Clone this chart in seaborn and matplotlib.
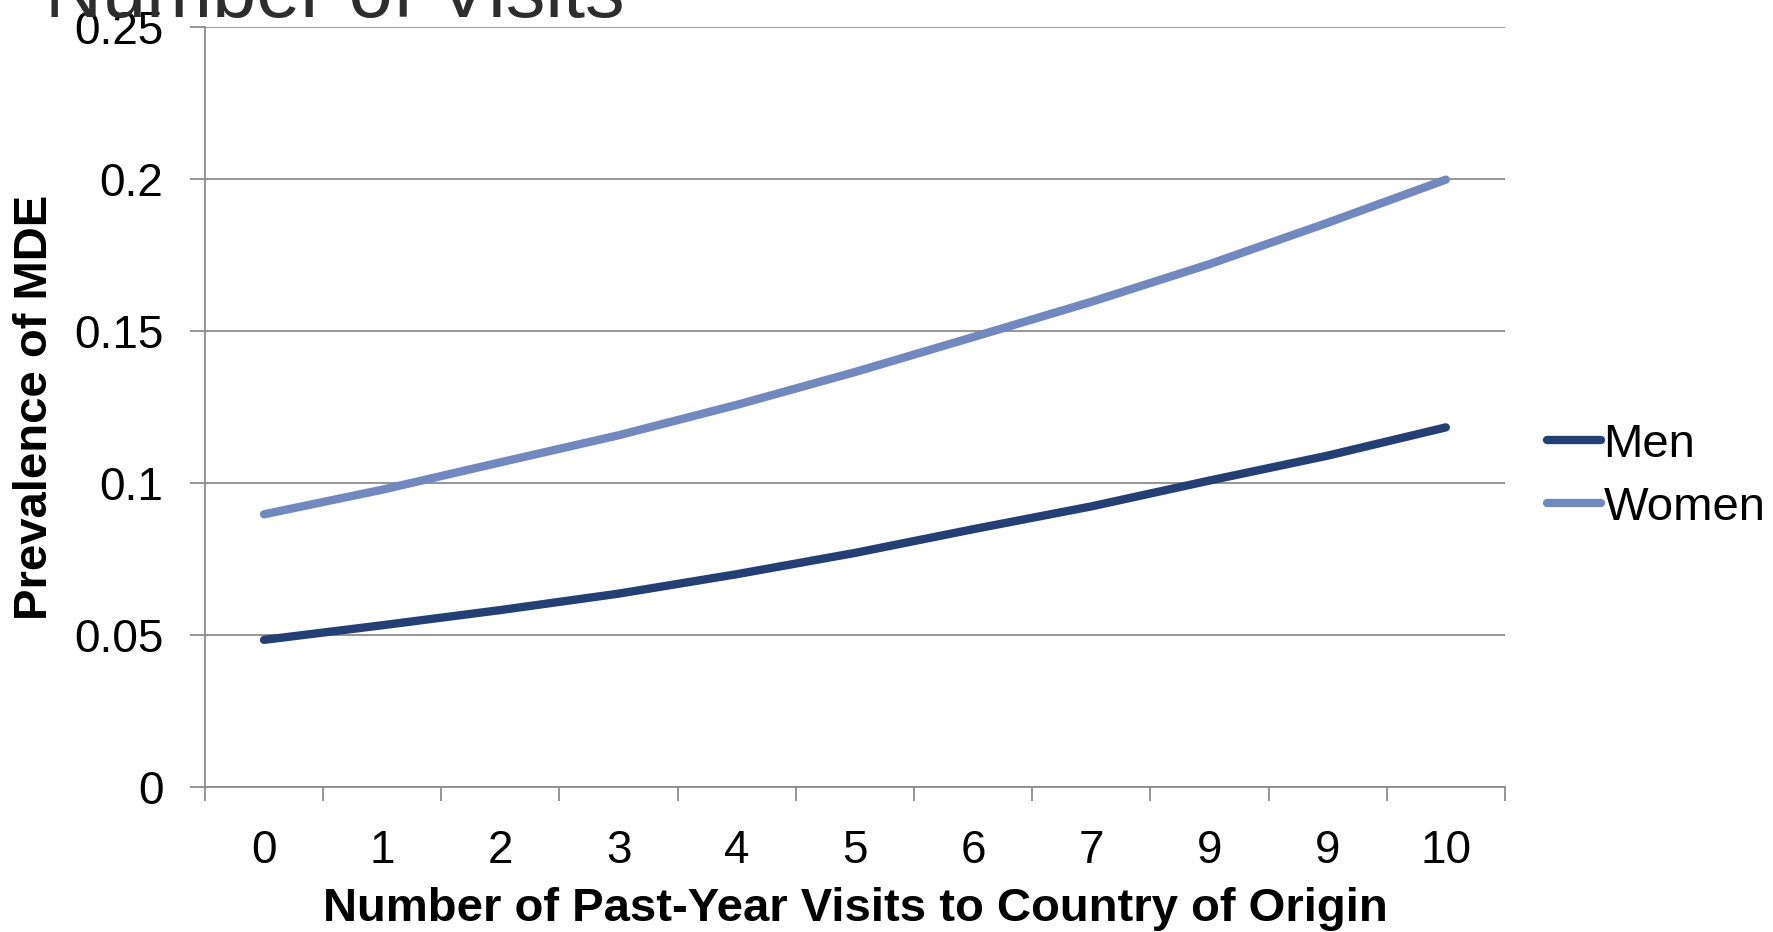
import pandas as pd
import seaborn as sns
import matplotlib.pyplot as plt
from matplotlib.ticker import FixedLocator, NullFormatter, FixedFormatter


# values
visit_labels = ["0", "1", "2", "3", "4", "5", "6", "7", "9", "9", "10"]
men_prev = [0.0484, 0.0532, 0.0582, 0.0636, 0.0700, 0.0770, 0.0848, 0.0923, 0.1008, 0.1090, 0.1183]
women_prev = [0.0897, 0.0978, 0.1068, 0.1157, 0.1257, 0.1365, 0.1480, 0.1596, 0.1720, 0.1856, 0.1998]
y_ticks = [0, 0.05, 0.1, 0.15, 0.2, 0.25]
y_tick_labels = ["0", "0.05", "0.1", "0.15", "0.2", "0.25"]

pos = list(range(len(visit_labels)))
df = pd.DataFrame({
    "pos": pos + pos,
    "prev": men_prev + women_prev,
    "sex": ["Men"] * len(pos) + ["Women"] * len(pos),
})

sns.set_style("white")
plt.rcParams['font.family'] = ['Liberation Sans', 'DejaVu Sans']
plt.rcParams['text.color'] = 'black'
plt.rcParams['axes.labelcolor'] = 'black'

fig = plt.figure(figsize=(17.73, 9.32), dpi=100)
ax = fig.add_axes([0.1156, 0.1556, 0.8488 - 0.1156, 0.971 - 0.1556])

palette = {"Men": "#243f73", "Women": "#7189bf"}
sns.lineplot(data=df, x="pos", y="prev", hue="sex", palette=palette, ax=ax,
             linewidth=6, solid_capstyle="round", legend=False)

ax.set_xlim(-0.5, len(pos) - 0.5)
ax.set_ylim(0, 0.25)

# horizontal gridlines
grid_col = "#8c8c8c"
for v in y_ticks:
    ax.axhline(v, color=grid_col, lw=1.3, zorder=0)

ax.set_yticks(y_ticks)
ax.set_yticklabels(y_tick_labels)
ax.tick_params(axis="y", length=11, width=1.3, color=grid_col, pad=19,
               labelsize=33, labelcolor="black", direction="out", left=True)

# category axis: ticks on the boundaries, labels in the middle
ax.xaxis.set_major_locator(FixedLocator([p - 0.5 for p in pos] + [pos[-1] + 0.5]))
ax.xaxis.set_major_formatter(NullFormatter())
ax.xaxis.set_minor_locator(FixedLocator(pos))
ax.xaxis.set_minor_formatter(FixedFormatter(visit_labels))
ax.tick_params(axis="x", which="major", length=10, width=1.3, color=grid_col,
               direction="out", bottom=True)
ax.tick_params(axis="x", which="minor", length=0, pad=30, labelsize=33,
               labelcolor="black")

for s in ["top", "right"]:
    ax.spines[s].set_visible(False)
for s in ["left", "bottom"]:
    ax.spines[s].set_color(grid_col)
    ax.spines[s].set_linewidth(1.3)

ax.set_xlabel("Number of Past-Year Visits to Country of Origin", fontsize=34,
              fontweight="bold", labelpad=10)
ax.set_ylabel("Prevalence of MDE", fontsize=34, fontweight="bold", labelpad=12)

# legend
handles = [plt.Line2D([], [], color=palette[k], lw=6, solid_capstyle="round")
           for k in ["Men", "Women"]]
fig.legend(handles, ["Men", "Women"], loc="center left",
           bbox_to_anchor=(0.8725, 0.489), frameon=False, fontsize=34,
           handlelength=1.15, handletextpad=0.05, labelspacing=0.4,
           borderpad=0, borderaxespad=0)

# title, mostly cut off by the top edge as in the original
fig.text(45 / 1773, 1 - 17 / 932, "Number of Visits", fontsize=57,
         color="#2d2d2d", va="baseline", ha="left")

fig.savefig("out.png", dpi=100)
